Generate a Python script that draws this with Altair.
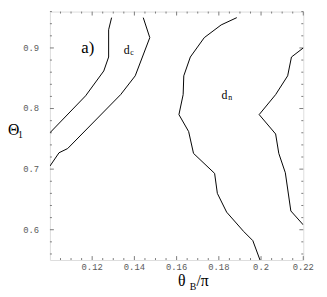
import altair as alt
import pandas as pd

# contour curves (theta_B/pi, Theta_1)
c1_x = [0.1292, 0.1278, 0.1278, 0.1255, 0.1169, 0.1000]
c1_y = [0.950, 0.930, 0.885, 0.862, 0.821, 0.760]
c2_x = [0.1442, 0.1473, 0.1404, 0.1335, 0.1084, 0.1043, 0.1000]
c2_y = [0.950, 0.917, 0.854, 0.823, 0.734, 0.727, 0.705]
c3_x = [0.1885, 0.1811, 0.1731, 0.1665, 0.1634, 0.1631, 0.1611, 0.1657,
        0.1680, 0.1780, 0.1793, 0.1837, 0.1918, 0.1961, 0.1995]
c3_y = [0.950, 0.938, 0.917, 0.885, 0.854, 0.823, 0.790, 0.762,
        0.726, 0.693, 0.660, 0.629, 0.597, 0.582, 0.550]
c4_x = [0.2200, 0.2144, 0.2126, 0.2069, 0.1991, 0.2069, 0.2084, 0.2115, 0.2141, 0.2200]
c4_y = [0.900, 0.885, 0.854, 0.823, 0.790, 0.758, 0.726, 0.694, 0.631, 0.608]

x_major = [0.12, 0.14, 0.16, 0.18, 0.20, 0.22]
x_labels = ["0.12", "0.14", "0.16", "0.18", "0.2", "0.22"]
x_minor = [0.105, 0.11, 0.115, 0.125, 0.13, 0.135, 0.145, 0.15, 0.155, 0.165, 0.17,
           0.175, 0.185, 0.19, 0.195, 0.205, 0.21, 0.215]
y_major = [0.6, 0.7, 0.8, 0.9]
y_labels = ["0.6", "0.7", "0.8", "0.9"]
y_minor = [0.56, 0.58, 0.62, 0.64, 0.66, 0.68, 0.72, 0.74, 0.76, 0.78,
           0.82, 0.84, 0.86, 0.88, 0.92, 0.94, 0.96]
x_domain = [0.10, 0.22]
y_domain = [0.55, 0.96]

rows = []
for name, xs, ys in [("c1", c1_x, c1_y), ("c2", c2_x, c2_y), ("c3", c3_x, c3_y), ("c4", c4_x, c4_y)]:
    for i, (a, b) in enumerate(zip(xs, ys)):
        rows.append({"curve": name, "i": i, "x": a, "y": b})
df = pd.DataFrame(rows)

W, H = 258, 253
xs_ = alt.Scale(domain=x_domain, nice=False, zero=False)
ys_ = alt.Scale(domain=y_domain, nice=False, zero=False)
XPP = (x_domain[1] - x_domain[0]) / W   # data units per pixel
YPP = (y_domain[1] - y_domain[0]) / H

TICK = "#7a7a7a"
LABEL_COLOR = "#5a5a5a"

# frame ticks (pointing inward) as short two-point line segments
trows = []
k = 0
for vals, size in [(x_major, 4), (x_minor, 2)]:
    for v in vals:
        for edge_y, sgn in [(y_domain[0], 1), (y_domain[1], -1)]:
            trows.append({"id": k, "o": 0, "x": v, "y": edge_y})
            trows.append({"id": k, "o": 1, "x": v, "y": edge_y + sgn * size * YPP})
            k += 1
for vals, size in [(y_major, 4), (y_minor, 2)]:
    for v in vals:
        for edge_x, sgn in [(x_domain[0], 1), (x_domain[1], -1)]:
            trows.append({"id": k, "o": 0, "x": edge_x, "y": v})
            trows.append({"id": k, "o": 1, "x": edge_x + sgn * size * XPP, "y": v})
            k += 1
tdf = pd.DataFrame(trows)

ticks = alt.Chart(tdf).mark_line(color=TICK, strokeWidth=1).encode(
    x=alt.X("x:Q", scale=xs_, axis=None),
    y=alt.Y("y:Q", scale=ys_, axis=None),
    detail="id:N",
    order="o:Q",
)

# tick labels as text marks placed by the scales
xl = pd.DataFrame({"x": x_major, "t": x_labels, "y": [y_domain[0]] * len(x_major)})
yl = pd.DataFrame({"y": y_major, "t": y_labels, "x": [x_domain[0]] * len(y_major)})
xlab = alt.Chart(xl).mark_text(font="Liberation Mono", fontSize=9, color=LABEL_COLOR,
                               baseline="middle", align="center", dy=7).encode(
    x=alt.X("x:Q", scale=xs_, axis=None), y=alt.Y("y:Q", scale=ys_, axis=None), text="t:N")
ylab = alt.Chart(yl).mark_text(font="Liberation Mono", fontSize=9, color=LABEL_COLOR,
                               baseline="middle", align="right", dx=-11).encode(
    x=alt.X("x:Q", scale=xs_, axis=None), y=alt.Y("y:Q", scale=ys_, axis=None), text="t:N")

main = alt.Chart(df).mark_line(color="black", strokeWidth=1, clip=True).encode(
    x=alt.X("x:Q", scale=xs_, axis=None),
    y=alt.Y("y:Q", scale=ys_, axis=None),
    detail="curve:N",
    order="i:Q",
)


def note(x, y, text, size, dx=0, dy=0, align="center"):
    d = pd.DataFrame({"x": [x], "y": [y], "t": [text]})
    return alt.Chart(d).mark_text(font="Liberation Serif", fontSize=size, color="black",
                                  dx=dx, dy=dy, align=align, baseline="middle").encode(
        x=alt.X("x:Q", scale=xs_, axis=None),
        y=alt.Y("y:Q", scale=ys_, axis=None),
        text="t:N",
    )


notes = [
    note(0.1179, 0.900, "a)", 17),
    note(0.1363, 0.8958, "d", 12),
    note(0.1363, 0.8958, "c", 8, dx=5.5, dy=2.5),
    note(0.1826, 0.822, "d", 12),
    note(0.1826, 0.822, "n", 8, dx=6, dy=2.5),
    # x title
    note(0.1606, 0.55, "θ", 16, dy=21, align="left"),
    note(0.1662, 0.55, "B", 10, dy=28, align="left"),
    note(0.1694, 0.55, "/π", 16, dy=21, align="left"),
    # y title
    note(0.10, 0.7647, "Θ", 16, dx=-37),
    note(0.10, 0.7647, "1", 10, dx=-30, dy=5),
]

chart = alt.layer(ticks, main, xlab, ylab, *notes).properties(
    width=W, height=H,
    autosize=alt.AutoSizeParams(type="none"),
    padding={"left": 42.7, "top": 1, "right": 16, "bottom": 35},
).configure_view(stroke="#8a8a8a", strokeWidth=1).configure(background="white")

chart.save("out.html", embed_options={"renderer": "svg", "actions": False})
